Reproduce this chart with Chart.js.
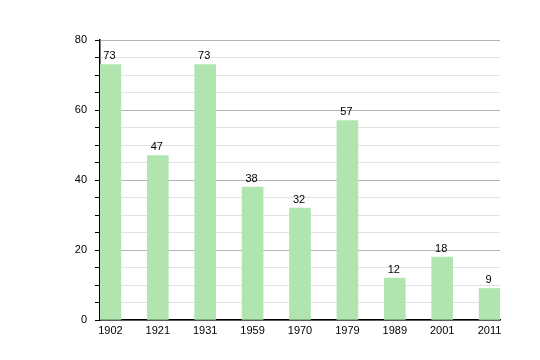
<!DOCTYPE html>
<html>
<head>
<meta charset="utf-8">
<script src="https://cdn.jsdelivr.net/npm/chart.js@4/dist/chart.umd.min.js"></script>
<style>
  html, body { margin: 0; padding: 0; background: #fff; }
  canvas { display: block; }
</style>
</head>
<body>
<canvas id="popChart" width="540" height="360"></canvas>
<script>
const years = ['1902', '1921', '1931', '1959', '1970', '1979', '1989', '2001', '2011'];
const population = [73, 47, 73, 38, 32, 57, 12, 18, 9];
const yTickLabels = [0, 20, 40, 60, 80];

const barColor = 'rgb(176, 229, 176)';

// draw the value over each bar
const valueLabels = {
    id: 'valueLabels',
    afterDatasetsDraw(chart) {
        const ctx = chart.ctx;
        const meta = chart.getDatasetMeta(0);
        ctx.save();
        ctx.font = '11px "Liberation Sans", Arial, sans-serif';
        ctx.fillStyle = '#000';
        ctx.textAlign = 'center';
        ctx.textBaseline = 'bottom';
        meta.data.forEach((bar, i) => {
            ctx.fillText(String(population[i]), bar.x - 1, bar.y - 3);
        });
        ctx.restore();
    }
};

const ctx = document.getElementById('popChart').getContext('2d');
new Chart(ctx, {
    type: 'bar',
    data: {
        datasets: [{
            data: years.map((y, i) => ({ x: i, y: population[i] })),
            backgroundColor: barColor,
            borderWidth: 0,
            barThickness: 21
        }]
    },
    options: {
        responsive: false,
        animation: false,
        layout: { padding: { top: 40, right: 40, left: 0, bottom: 0 } },
        plugins: { legend: { display: false }, tooltip: { enabled: false } },
        scales: {
            x: {
                type: 'linear',
                min: -0.22,
                max: 8.22,
                offset: false,
                afterBuildTicks: scale => { scale.ticks = years.map((y, i) => ({ value: i })); },
                afterFit: scale => { scale.height = 40; },
                grid: { display: false, drawTicks: false },
                border: { color: '#000', width: 1.5 },
                ticks: {
                    autoSkip: false,
                    maxRotation: 0,
                    padding: 4,
                    color: '#000',
                    font: { family: '"Liberation Sans", Arial, sans-serif', size: 11 },
                    callback: v => years[v]
                }
            },
            y: {
                min: 0,
                max: 80,
                afterFit: scale => { scale.width = 100; },
                grid: {
                    color: c => (yTickLabels.includes(c.tick.value) ? '#b4b4b4' : '#e2e2e2'),
                    tickColor: '#000',
                    tickLength: 5,
                    lineWidth: 1
                },
                border: { color: '#000', width: 1.5 },
                ticks: {
                    stepSize: 5,
                    autoSkip: false,
                    padding: 8,
                    color: '#000',
                    font: { family: '"Liberation Sans", Arial, sans-serif', size: 11 },
                    callback: v => (yTickLabels.includes(v) ? String(v) : '')
                }
            }
        }
    },
    plugins: [valueLabels]
});
</script>
</body>
</html>
